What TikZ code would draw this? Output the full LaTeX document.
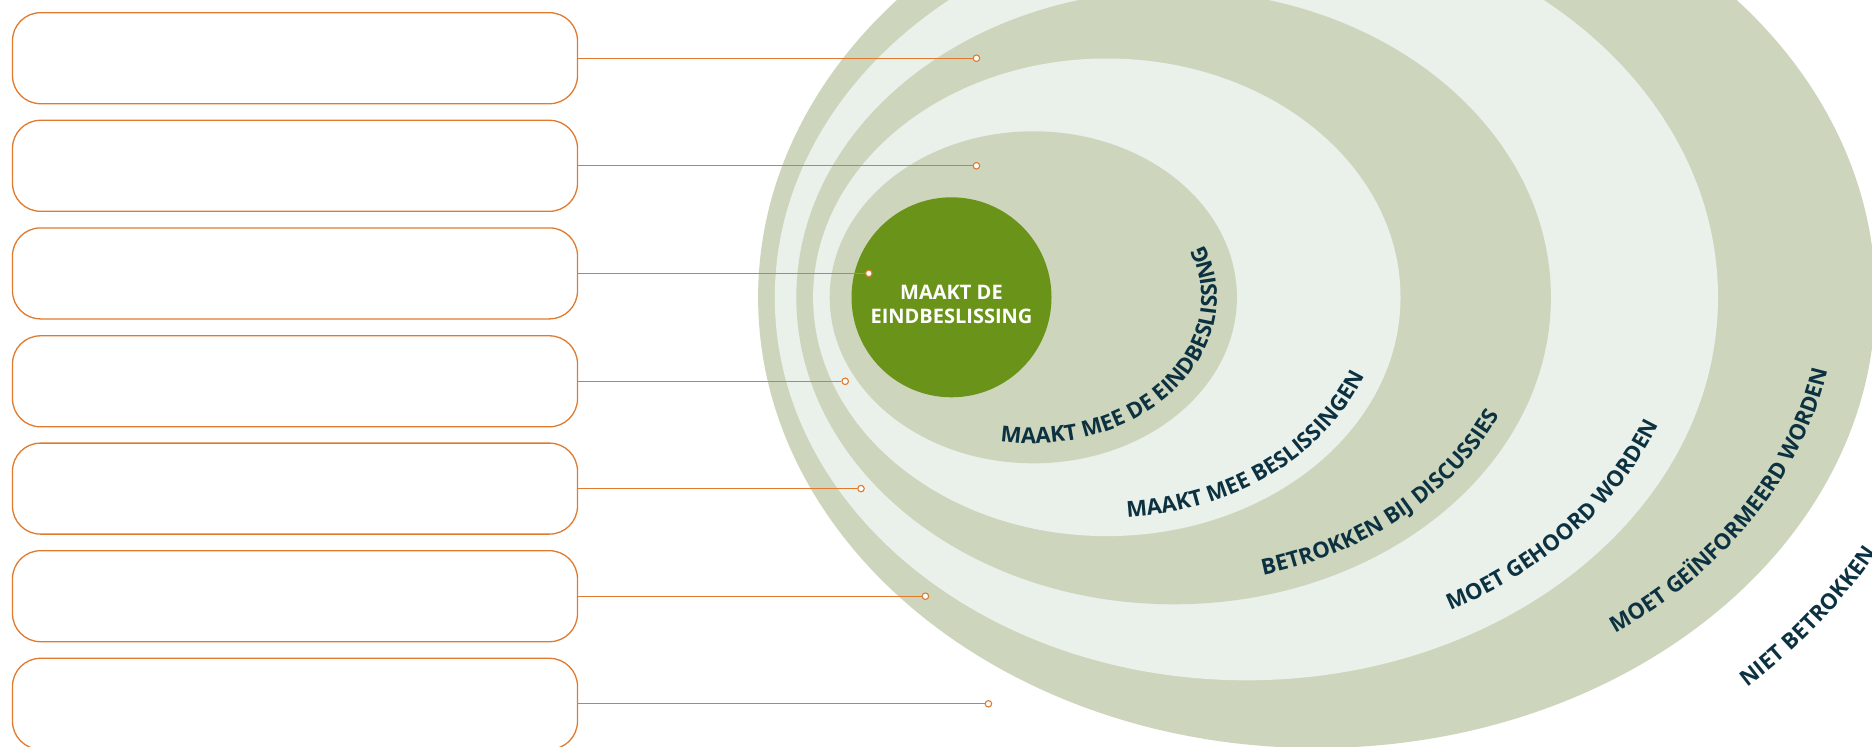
\documentclass[tikz,border=0pt]{standalone}
\usepackage{fontspec}
\setmainfont{Open Sans}
\usepackage{xcolor}
\usepackage{tikz}
\usetikzlibrary{shapes.geometric}
\usetikzlibrary{decorations.text}
\definecolor{ringdark}{RGB}{205,214,189}
\definecolor{ringlight}{RGB}{234,240,234}
\definecolor{coregreen}{RGB}{106,148,25}
\definecolor{labelnavy}{RGB}{12,50,66}
\definecolor{linkorange}{RGB}{224,122,46}
\newcommand\lblfont{\bfseries\fontsize{22}{26}\selectfont}
\tikzstyle{ring}=[shape=ellipse, draw=none, inner sep=0pt]
\tikzstyle{darkring}=[ring, fill=ringdark]
\tikzstyle{lightring}=[ring, fill=ringlight]
\tikzstyle{corenode}=[shape=circle, fill=coregreen, minimum size=200pt, inner sep=0pt]
\tikzstyle{coretext}=[text=white, align=center, yshift=-7pt, font=\bfseries\fontsize{20}{24}\selectfont]
\tikzstyle{answerbox}=[draw=linkorange, line width=1.3pt, fill=white, rounded corners=28pt, minimum width=565pt, minimum height=91pt]
\tikzstyle{pinnode}=[shape=circle, draw=linkorange, fill=white, line width=1.1pt, minimum size=6.5pt, inner sep=0pt]
\tikzstyle{link}=[draw=linkorange, line width=1.3pt]
\tikzstyle{ringlabel}=[decorate, decoration={text along path, text color=labelnavy}]

\begin{document}
\begin{tikzpicture}[x=1pt, y=1pt]
\useasboundingbox (0,0) rectangle (1872,-747);
\clip (0,0) rectangle (1872,-747);
\fill[white] (0,0) rectangle (1872,-747);

% rings, outside in
\node [darkring, minimum width=1117.4pt, minimum height=901.4pt] (ringE) at (1316.8,-297.3) {};
\node [lightring, minimum width=943.2pt, minimum height=766pt] (ringD) at (1246.4,-297.3) {};
\node [darkring, minimum width=754.6pt, minimum height=614pt] (ringC) at (1173.6,-297.3) {};
\node [lightring, minimum width=587.4pt, minimum height=477.6pt] (ringB) at (1106.8,-297.3) {};
\node [darkring, minimum width=407.2pt, minimum height=332pt] (ringA) at (1033.3,-297.3) {};
\node [corenode, label={[coretext]center:{MAAKT DE\\EINDBESLISSING}}] (core) at (951.5,-297.3) {};

% labels along the rings
\path [ringlabel, decoration={text={|\lblfont|MAAKT MEE DE EINDBESLISSING}}]
  (ringA.center) ++(-100.4:183.6 and 146) arc[start angle=-100.4, end angle=60, x radius=183.6, y radius=146];
\path [ringlabel, decoration={text={|\lblfont|MAAKT MEE BESLISSINGEN}}]
  (ringB.center) ++(-85.8:275.7 and 220.8) arc[start angle=-85.8, end angle=40, x radius=275.7, y radius=220.8];
\path [ringlabel, decoration={text={|\lblfont|BETROKKEN BIJ DISCUSSIES}}]
  (ringC.center) ++(-75.5:357.3 and 287) arc[start angle=-75.5, end angle=40, x radius=357.3, y radius=287];
\path [ringlabel, decoration={text={|\lblfont|MOET GEHOORD WORDEN}}]
  (ringD.center) ++(-62.5:441.6 and 353) arc[start angle=-62.5, end angle=40, x radius=441.6, y radius=353];
\path [ringlabel, decoration={text={|\lblfont|MOET GEÏNFORMEERD WORDEN}}]
  (ringE.center) ++(-54.9:518.7 and 410.7) arc[start angle=-54.9, end angle=40, x radius=518.7, y radius=410.7];
\path [ringlabel, decoration={text={|\lblfont|NIET BETROKKEN}}]
  (ringE.center) ++(-47.7:640 and 527) arc[start angle=-47.7, end angle=20, x radius=640, y radius=527];

% empty answer boxes
\node [answerbox] (box1) at (295,-58.2) {};
\node [answerbox] (box2) at (295,-165.8) {};
\node [answerbox] (box3) at (295,-273.4) {};
\node [answerbox] (box4) at (295,-381.3) {};
\node [answerbox] (box5) at (295,-488.6) {};
\node [answerbox] (box6) at (295,-596.2) {};
\node [answerbox] (box7) at (295,-703.8) {};

\node [pinnode] (pin1) at (976.4,-58.2) {};
\node [pinnode] (pin2) at (976.4,-165.8) {};
\node [pinnode] (pin3) at (868.8,-273.4) {};
\node [pinnode] (pin4) at (845.2,-381.3) {};
\node [pinnode] (pin5) at (861.0,-488.6) {};
\node [pinnode] (pin6) at (925.4,-596.2) {};
\node [pinnode] (pin7) at (988.4,-703.8) {};

\draw [link] (box1.east) -- (pin1);
\draw [link] (box2.east) -- (pin2);
\draw [link] (box3.east) -- (pin3);
\draw [link] (box4.east) -- (pin4);
\draw [link] (box5.east) -- (pin5);
\draw [link] (box6.east) -- (pin6);
\draw [link] (box7.east) -- (pin7);
\end{tikzpicture}
\end{document}
